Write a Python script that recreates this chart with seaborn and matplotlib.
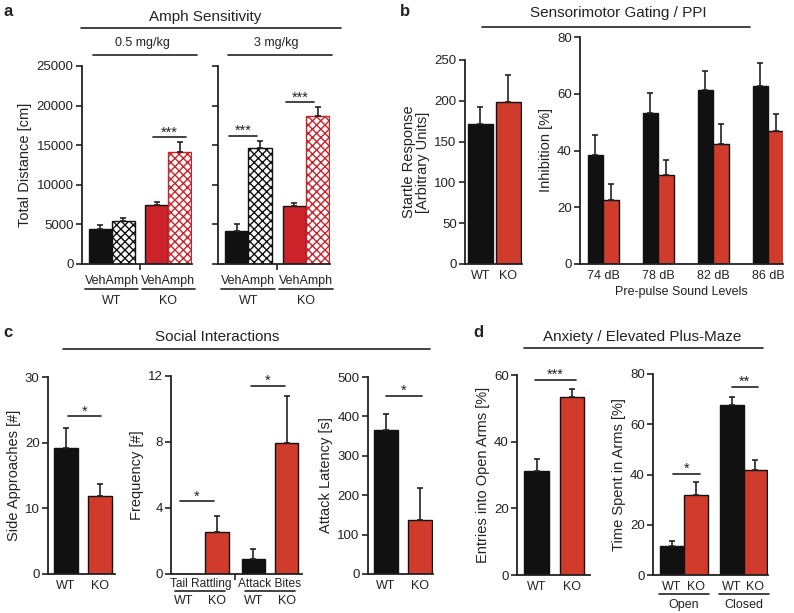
# Behavioural phenotyping figure (panels a-d)

import numpy as np
import pandas as pd
import matplotlib
matplotlib.use('Agg')
import matplotlib.pyplot as plt
from matplotlib.lines import Line2D
from matplotlib.transforms import offset_copy
import seaborn as sns

# ---- data ----
genotypes = ['WT', 'KO']
treatments = ['Veh', 'Amph']
# order: WT Veh, WT Amph, KO Veh, KO Amph
amph_low_mean = [4400, 5400, 7400, 14100]
amph_low_sem = [550, 450, 400, 1300]
amph_high_mean = [4200, 14600, 7300, 18700]
amph_high_sem = [800, 900, 400, 1100]

startle_mean = [171, 199]
startle_sem = [22, 33]

ppi_levels = ['74 dB', '78 dB', '82 dB', '86 dB']
ppi_wt = [38.5, 53.3, 61.2, 62.8]
ppi_wt_sem = [6.8, 7.0, 6.7, 8.0]
ppi_ko = [22.6, 31.4, 42.3, 47.0]
ppi_ko_sem = [5.7, 5.3, 7.0, 5.8]

side_mean = [19.2, 11.9]
side_sem = [3.0, 1.8]

behaviours = ['Tail Rattling', 'Attack Bites']
freq_wt = [0.0, 0.93]
freq_wt_sem = [0.0, 0.6]
freq_ko = [2.54, 7.96]
freq_ko_sem = [0.95, 2.8]

latency_mean = [365, 137]
latency_sem = [42, 82]

entries_mean = [31.3, 53.3]
entries_sem = [3.5, 2.6]

arms = ['Open', 'Closed']
time_wt = [11.5, 67.6]
time_wt_sem = [2.2, 3.4]
time_ko = [32.0, 41.8]
time_ko_sem = [4.9, 3.8]

# ---- style ----
sns.set_theme(style='ticks')
plt.rcParams['font.family'] = ['Liberation Sans', 'DejaVu Sans']
plt.rcParams['hatch.linewidth'] = 1.0

BLACK = '#111111'
RED = '#d03b2c'
RED_A = '#cc2229'
TXT = '#222222'
W, H = 794, 613

fig = plt.figure(figsize=(W / 100, H / 100), dpi=100)


def add_ax(x0, y0, x1, y1):
    return fig.add_axes([x0 / W, 1 - y1 / H, (x1 - x0) / W, (y1 - y0) / H])


def fig_text(x, y, s, **kw):
    fig.text(x / W, 1 - y / H, s, ha='center', va='center', color=TXT, **kw)


def fig_line(x0, x1, y):
    fig.add_artist(Line2D([x0 / W, x1 / W], [1 - y / H] * 2,
                          transform=fig.transFigure, color=TXT, lw=1.2))


def interleave(a, b):
    return [v for pair in zip(a, b) for v in pair]


def draw_bars(ax, cats, means, sems, colors, width, hues=None, gap=0):
    if hues is None:
        df = pd.DataFrame({'cat': cats, 'val': means})
        sns.barplot(data=df, x='cat', y='val', hue='cat', palette=colors,
                    width=width, edgecolor=BLACK, linewidth=1.0,
                    saturation=1, errorbar=None, legend=False, ax=ax)
    else:
        df = pd.DataFrame({'cat': np.repeat(cats, len(hues)),
                           'hue': list(hues) * len(cats), 'val': means})
        sns.barplot(data=df, x='cat', y='val', hue='hue', order=cats,
                    hue_order=hues, palette=colors, width=width, gap=gap,
                    edgecolor=BLACK, linewidth=1.0, saturation=1,
                    errorbar=None, legend=False, ax=ax)
    bars = sorted(ax.patches, key=lambda p: p.get_x())
    xs = np.array([p.get_x() + p.get_width() / 2 for p in bars])
    tops = np.array([p.get_height() for p in bars])
    sems = np.array(sems)
    m = sems > 0
    ax.errorbar(xs[m], tops[m], yerr=[np.zeros(m.sum()), sems[m]], fmt='none',
                ecolor=TXT, elinewidth=1.2, capsize=2.4, capthick=1.2, zorder=1)
    return bars, xs


def style_ax(ax, yticks, xlim, ylabel, minor=None):
    ax.set_ylim(0, yticks[-1])
    ax.set_yticks(yticks)
    ax.set_xlim(*xlim)
    ax.set_xlabel('')
    ax.set_ylabel(ylabel, fontsize=10.5, color=TXT, labelpad=3)
    sns.despine(ax=ax)
    for s in ['left', 'bottom']:
        ax.spines[s].set_linewidth(1.3)
        ax.spines[s].set_color(TXT)
    ax.tick_params(axis='y', length=4, width=1.2, labelsize=9.5, pad=2,
                   colors=TXT)
    ax.tick_params(axis='x', length=0, labelsize=9, pad=4, colors=TXT)
    if minor is not None:
        ax.set_xticks(minor, minor=True)
        ax.tick_params(axis='x', which='minor', length=4, width=1.2,
                       color=TXT)


def sig(ax, x0, x1, y, label):
    ax.plot([x0, x1], [y, y], color=TXT, lw=1.2, clip_on=False)
    ax.annotate(label, ((x0 + x1) / 2, y), xytext=(0, -1.5),
                textcoords='offset points', ha='center', va='bottom',
                fontsize=10.5, color=TXT)


def under(ax, x0, x1, text, dy_line, dy_text, size=9):
    base = ax.get_xaxis_transform()
    tl = offset_copy(base, fig=fig, y=-dy_line, units='dots')
    ax.plot([x0, x1], [0, 0], transform=tl, color=TXT, lw=1.2, clip_on=False)
    tt = offset_copy(base, fig=fig, y=-dy_text, units='dots')
    ax.text((x0 + x1) / 2, 0, text, transform=tt, ha='center', va='center',
            fontsize=size, color=TXT)


# ---- panel a ----
amph_colors = [BLACK, 'white']
for (x0, x1), mean, sem, sigs in [
        ((82, 192), amph_low_mean, amph_low_sem, [(0.72, 1.32, 16000)]),
        ((218, 330), amph_high_mean, amph_high_sem,
         [(-0.34, 0.15, 16200), (0.66, 1.14, 20400)])]:
    ax = add_ax(x0, 66, x1, 264)
    bars, xs = draw_bars(ax, genotypes, mean, sem, amph_colors, 0.81,
                         hues=treatments)
    for i, b in enumerate(bars):
        ko = i >= 2
        if i % 2 == 0:
            b.set_facecolor(RED_A if ko else BLACK)
            b.set_edgecolor(BLACK)
        else:
            b.set_facecolor('white')
            b.set_hatch('xxxx')
            b.set_edgecolor(RED_A if ko else BLACK)
    style_ax(ax, [0, 5000, 10000, 15000, 20000, 25000],
             (-0.53, 1.42), 'Total Distance [cm]' if x0 < 100 else '',
             minor=[0.5])
    if x0 > 100:
        ax.set_yticklabels([])
    ax.set_xticks([0, 1])
    ax.set_xticklabels([''.join(treatments)] * 2)
    ax.tick_params(axis='x', pad=8)
    for g, name in enumerate(genotypes):
        under(ax, g - 0.47, g + 0.47, name, 25, 37)
    for a0, a1, y in sigs:
        sig(ax, a0, a1, y, '***')

fig_text(205, 17, 'Amph Sensitivity', fontsize=11)
fig_line(81, 341, 28)
fig_text(142, 43, '0.5 mg/kg', fontsize=9)
fig_line(93, 197, 55)
fig_text(276, 43, '3 mg/kg', fontsize=9)
fig_line(228, 332, 55)

# ---- panel b ----
ax = add_ax(465, 60, 522, 264)
draw_bars(ax, genotypes, startle_mean, startle_sem, [BLACK, RED], 0.9)
style_ax(ax, [0, 50, 100, 150, 200, 250], (-0.56, 1.5),
         'Startle Response\n[Arbitrary Units]')
ax.yaxis.label.set_linespacing(1.05)

ax = add_ax(580, 37, 783, 264)
draw_bars(ax, ppi_levels, interleave(ppi_wt, ppi_ko),
          interleave(ppi_wt_sem, ppi_ko_sem), [BLACK, RED], 0.56,
          hues=genotypes)
style_ax(ax, [0, 20, 40, 60, 80], (-0.42, 3.27), 'Inhibition [%]')
ax.set_xlabel('Pre-pulse Sound Levels', fontsize=9, color=TXT, labelpad=3)

fig_text(618, 13, 'Sensorimotor Gating / PPI', fontsize=11)
fig_line(482, 750, 27)

# ---- panel c ----
ax = add_ax(48, 377, 115, 574)
draw_bars(ax, genotypes, side_mean, side_sem, [BLACK, RED], 0.7)
style_ax(ax, [0, 10, 20, 30], (-0.53, 1.44), 'Side Approaches [#]')
sig(ax, 0.06, 1.03, 24.0, '*')

ax = add_ax(171, 376, 302, 574)
bars, xs = draw_bars(ax, behaviours, interleave(freq_wt, freq_ko),
                     interleave(freq_wt_sem, freq_ko_sem), [BLACK, RED],
                     0.96, hues=genotypes, gap=0.3)
style_ax(ax, [0, 4, 8, 12], (-0.42, 1.46), 'Frequency [#]', minor=[0.5])
ax.tick_params(axis='x', pad=3, labelsize=8.6)
for g in range(len(behaviours)):
    under(ax, g - 0.36, g + 0.36, '', 17, 17)
for x, name in zip(xs, genotypes * len(behaviours)):
    ax.text(x, 0, name, transform=offset_copy(ax.get_xaxis_transform(),
            fig=fig, y=-27, units='dots'), ha='center', va='center',
            fontsize=9, color=TXT)
sig(ax, -0.29, 0.19, 4.4, '*')
sig(ax, 0.73, 1.21, 11.4, '*')

ax = add_ax(368, 377, 433, 574)
draw_bars(ax, genotypes, latency_mean, latency_sem, [BLACK, RED], 0.7)
style_ax(ax, [0, 100, 200, 300, 400, 500], (-0.53, 1.38),
         'Attack Latency [s]')
sig(ax, 0.0, 1.06, 453, '*')

fig_text(217, 337, 'Social Interactions', fontsize=11)
fig_line(63, 430, 349)

# ---- panel d ----
ax = add_ax(517, 375, 590, 575)
draw_bars(ax, genotypes, entries_mean, entries_sem, [BLACK, RED], 0.69)
style_ax(ax, [0, 20, 40, 60], (-0.55, 1.5), 'Entries into Open Arms [%]')
sig(ax, -0.04, 1.11, 58.5, '***')

ax = add_ax(653, 374, 768, 575)
bars, xs = draw_bars(ax, arms, interleave(time_wt, time_ko),
                     interleave(time_wt_sem, time_ko_sem), [BLACK, RED],
                     0.8, hues=genotypes)
style_ax(ax, [0, 20, 40, 60, 80], (-0.52, 1.41), 'Time Spent in Arms [%]')
ax.set_xticks(xs)
ax.set_xticklabels(genotypes * len(arms))
ax.tick_params(axis='x', pad=4)
for g, name in enumerate(arms):
    under(ax, g - 0.42, g + 0.42, name, 19, 30)
sig(ax, -0.18, 0.27, 40.2, '*')
sig(ax, 0.8, 1.24, 75, '**')

fig_text(642, 337, 'Anxiety / Elevated Plus-Maze', fontsize=11)
fig_line(524, 763, 348)

# ---- panel letters ----
for x, y, s in [(8, 12, 'a'), (405, 12, 'b'), (8, 332, 'c'), (478, 332, 'd')]:
    fig_text(x, y, s, fontsize=12, fontweight='bold')

fig.savefig('out.png', dpi=100)
